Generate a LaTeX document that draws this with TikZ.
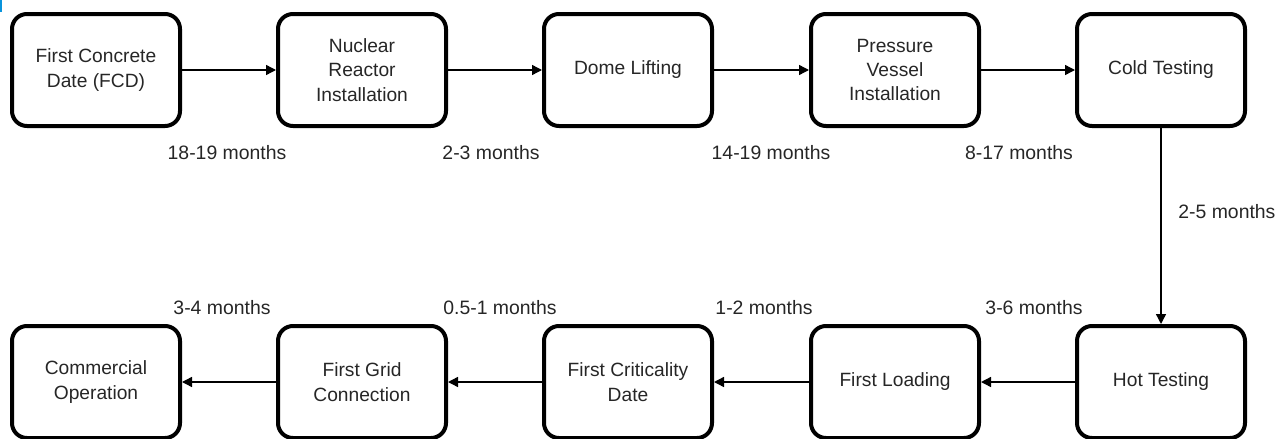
\documentclass[tikz,border=0pt]{standalone}
\usepackage{fontspec}
\setmainfont{Liberation Sans}
\usetikzlibrary{arrows.meta}
\begin{document}
\begin{tikzpicture}[x=0.5pt,y=-0.5pt,
  stage/.style={draw=black, line width=2pt, rounded corners=7.5pt, minimum width=84pt, minimum height=56pt, align=center, font=\fontsize{9.6}{12.2}\selectfont, text=black!85, inner sep=0pt},
  flow/.style={line width=0.7pt, -{Triangle[length=5pt,width=5pt]}},
  dur/.style={font=\fontsize{9.7}{12}\selectfont, text=black!85, inner sep=0pt}]
\useasboundingbox (0,0) rectangle (1286,439);
\fill[cyan!80!blue] (0,0) rectangle (2,12);
\node[stage] (a) at (96,70) {First Concrete\\Date (FCD)};
\node[stage] (b) at (362,70) {Nuclear\\Reactor\\Installation};
\node[stage] (c) at (628,70) {Dome Lifting};
\node[stage] (d) at (895,70) {Pressure\\Vessel\\Installation};
\node[stage] (e) at (1161,70) {Cold Testing};
\node[stage] (f) at (1161,382) {Hot Testing};
\node[stage] (g) at (895,382) {First Loading};
\node[stage] (h) at (628,382) {First Criticality\\Date};
\node[stage] (i) at (362,382) {First Grid\\Connection};
\node[stage] (j) at (96,382) {Commercial\\Operation};
\draw[flow] (a) -- (b);
\draw[flow] (b) -- (c);
\draw[flow] (c) -- (d);
\draw[flow] (d) -- (e);
\draw[flow] (e) -- (f);
\draw[flow] (f) -- (g);
\draw[flow] (g) -- (h);
\draw[flow] (h) -- (i);
\draw[flow] (i) -- (j);
\node[dur] (l1) at (227,153) {18-19 months};
\node[dur] (l2) at (491,153) {2-3 months};
\node[dur] (l3) at (771,153) {14-19 months};
\node[dur] (l4) at (1019,153) {8-17 months};
\node[dur, anchor=west] (l5) at (1178,212) {2-5 months};
\node[dur] (l6) at (1034,308) {3-6 months};
\node[dur] (l7) at (764,308) {1-2 months};
\node[dur] (l8) at (500,308) {0.5-1 months};
\node[dur] (l9) at (222,308) {3-4 months};
\end{tikzpicture}
\end{document}
